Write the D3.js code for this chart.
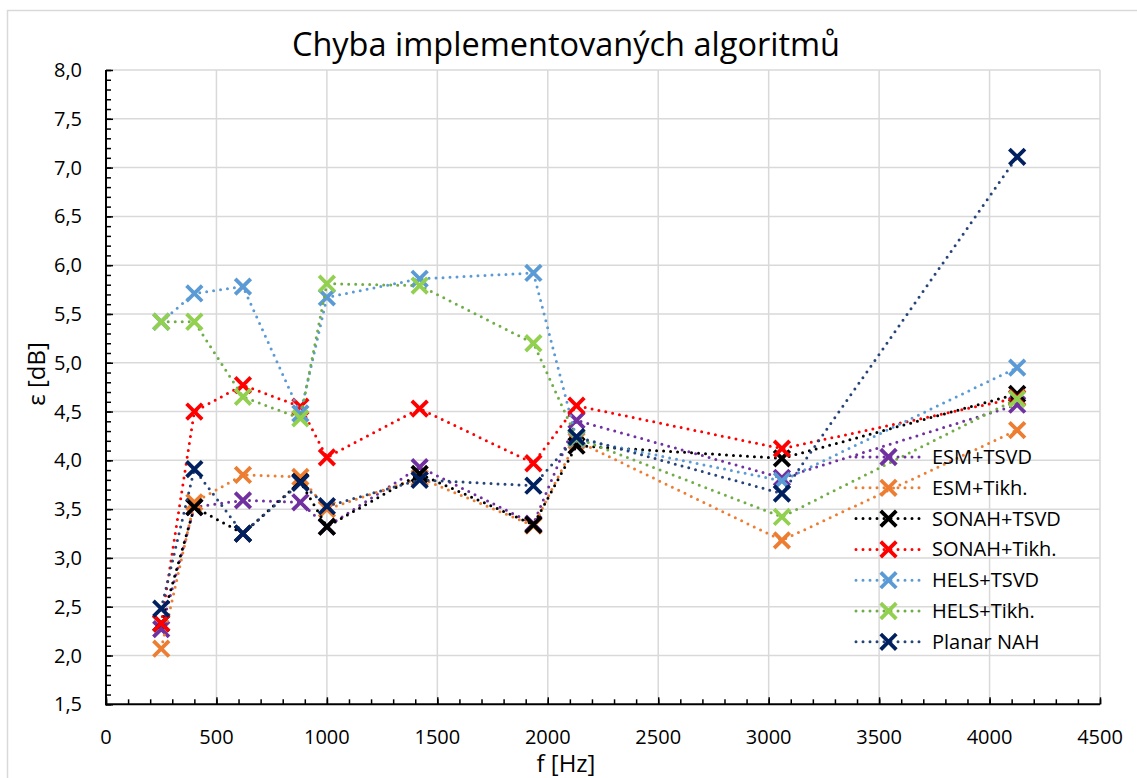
<!DOCTYPE html>
<html>
<head>
<meta charset="utf-8">
<script src="https://cdn.jsdelivr.net/npm/d3@7"></script>
<style>
  html, body { margin: 0; padding: 0; background: #fff; }
  svg { display: block; font-family: "Open Sans", sans-serif; }
</style>
</head>
<body>
<svg id="chart" width="1137" height="778"></svg>
<script>
// Measurement frequencies [Hz]
const freqs = [250, 400, 620, 880, 1000, 1420, 1935, 2130, 3060, 4125];

// Reconstruction error per algorithm [dB]
const esmTsvd   = [2.27, 3.52, 3.59, 3.57, 3.32, 3.93, 3.35, 4.41, 3.82, 4.57];
const esmTikh   = [2.07, 3.57, 3.85, 3.83, 3.50, 3.82, 3.33, 4.20, 3.18, 4.31];
const sonahTsvd = [2.33, 3.52, 3.25, 3.78, 3.32, 3.86, 3.34, 4.15, 4.02, 4.68];
const sonahTikh = [2.33, 4.50, 4.77, 4.55, 4.03, 4.53, 3.97, 4.56, 4.12, 4.64];
const helsTsvd  = [5.42, 5.71, 5.78, 4.48, 5.67, 5.86, 5.92, 4.22, 3.79, 4.95];
const helsTikh  = [5.42, 5.42, 4.65, 4.43, 5.81, 5.79, 5.20, 4.23, 3.42, 4.63];
const planarNah = [2.48, 3.91, 3.25, 3.77, 3.53, 3.80, 3.74, 4.24, 3.66, 7.11];

const seriesNames = ["ESM+TSVD", "ESM+Tikh.", "SONAH+TSVD", "SONAH+Tikh.", "HELS+TSVD", "HELS+Tikh.", "Planar NAH"];
const seriesValues = [esmTsvd, esmTikh, sonahTsvd, sonahTikh, helsTsvd, helsTikh, planarNah];
const lineColors   = ["#7030a0", "#ed7d31", "#000000", "#ff0000", "#5b9bd5", "#70ad47", "#264478"];
const markerColors = ["#7030a0", "#ed7d31", "#000000", "#ff0000", "#5b9bd5", "#92d050", "#002060"];

const xTicks = [0, 500, 1000, 1500, 2000, 2500, 3000, 3500, 4000, 4500];
const yTicks = [1.5, 2.0, 2.5, 3.0, 3.5, 4.0, 4.5, 5.0, 5.5, 6.0, 6.5, 7.0, 7.5, 8.0];

const svg = d3.select("#chart");
const x = d3.scaleLinear().domain([0, 4500]).range([106, 1100]);
const y = d3.scaleLinear().domain([1.5, 8.0]).range([704.3, 70]);
const fmt = v => d3.format(".1f")(v).replace(".", ",");

// chart frame
svg.append("rect").attr("x", 7.5).attr("y", 10.5).attr("width", 1140).attr("height", 790)
  .attr("fill", "none").attr("stroke", "#d9d9d9").attr("stroke-width", 1.5);

// gridlines
const grid = svg.append("g");
grid.selectAll(".gy").data(yTicks.slice(1)).join("line")
  .attr("x1", x(0)).attr("x2", x(4500))
  .attr("y1", d => y(d)).attr("y2", d => y(d))
  .attr("stroke", "#d9d9d9").attr("stroke-width", 1.5);
grid.selectAll(".gx").data(xTicks.slice(1)).join("line")
  .attr("x1", d => x(d)).attr("x2", d => x(d))
  .attr("y1", y(1.5)).attr("y2", y(8.0))
  .attr("stroke", "#d9d9d9").attr("stroke-width", 1.5);

// axes with inside ticks (minor + major)
const tickStyle = g => g.call(s => s.select(".domain").remove())
  .call(s => s.selectAll("line").attr("stroke", "#000").attr("stroke-width", 1.5));
svg.append("g").attr("transform", `translate(${x(0)},0)`)
  .call(d3.axisRight(y).tickValues(d3.range(15, 81).map(v => v / 10)).tickSize(5).tickFormat(""))
  .call(tickStyle);
svg.append("g").attr("transform", `translate(${x(0)},0)`)
  .call(d3.axisRight(y).tickValues(yTicks).tickSize(7).tickFormat(""))
  .call(tickStyle);
svg.append("g").attr("transform", `translate(0,${y(1.5)})`)
  .call(d3.axisTop(x).tickValues(d3.range(0, 4501, 100)).tickSize(5).tickFormat(""))
  .call(tickStyle);
svg.append("g").attr("transform", `translate(0,${y(1.5)})`)
  .call(d3.axisTop(x).tickValues(xTicks).tickSize(7).tickFormat(""))
  .call(tickStyle);

svg.append("line").attr("x1", x(0)).attr("x2", x(0)).attr("y1", y(8.0)).attr("y2", y(1.5) + 1)
  .attr("stroke", "#000").attr("stroke-width", 2);
svg.append("line").attr("x1", x(0) - 1).attr("x2", x(4500)).attr("y1", y(1.5)).attr("y2", y(1.5))
  .attr("stroke", "#000").attr("stroke-width", 2);

// tick labels
svg.append("g").selectAll("text").data(yTicks).join("text")
  .attr("x", 82).attr("y", d => y(d)).attr("dy", "0.35em")
  .attr("text-anchor", "end").attr("font-size", 20).attr("fill", "#000")
  .text(fmt);
svg.append("g").selectAll("text").data(xTicks).join("text")
  .attr("x", d => x(d)).attr("y", 737).attr("dy", "0.35em")
  .attr("text-anchor", "middle").attr("font-size", 20).attr("fill", "#000")
  .text(d => d);

// titles
svg.append("text").attr("x", 566).attr("y", 45).attr("dy", "0.35em")
  .attr("text-anchor", "middle").attr("font-size", 32.5).attr("fill", "#000")
  .text("Chyba implementovaných algoritmů");
svg.append("text").attr("x", 566).attr("y", 764).attr("dy", "0.35em")
  .attr("text-anchor", "middle").attr("font-size", 24).attr("fill", "#000")
  .text("f [Hz]");
svg.append("text").attr("transform", "translate(37,374) rotate(-90)").attr("dy", "0.35em")
  .attr("text-anchor", "middle").attr("font-size", 24).attr("fill", "#000")
  .text("ε [dB]");

// series: dotted line + cross markers
const line = d3.line().x(d => x(d[0])).y(d => y(d[1]));
const cross = (sel, s) => sel.append("path")
  .attr("d", `M${-s},${-s}L${s},${s}M${-s},${s}L${s},${-s}`);

seriesNames.forEach((name, i) => {
  const pts = freqs.map((f, j) => [f, seriesValues[i][j]]);
  const g = svg.append("g");
  g.append("path").datum(pts).attr("d", line)
    .attr("fill", "none").attr("stroke", lineColors[i]).attr("stroke-width", 3)
    .attr("stroke-linecap", "round").attr("stroke-dasharray", "0 7");
  g.selectAll("g.m").data(pts).join("g")
    .attr("transform", d => `translate(${x(d[0])},${y(d[1])})`)
    .each(function () {
      cross(d3.select(this), 7.8).attr("stroke", markerColors[i]).attr("stroke-width", 3.8).attr("fill", "none");
    });
});

// legend
const legend = svg.append("g");
seriesNames.forEach((name, i) => {
  const ly = 457 + i * 30.8;
  legend.append("line").attr("x1", 856).attr("x2", 921).attr("y1", ly).attr("y2", ly)
    .attr("stroke", lineColors[i]).attr("stroke-width", 3)
    .attr("stroke-linecap", "round").attr("stroke-dasharray", "0 7");
  cross(legend.append("g").attr("transform", `translate(888.5,${ly})`), 7.8)
    .attr("stroke", markerColors[i]).attr("stroke-width", 3.8).attr("fill", "none");
  legend.append("text").attr("x", 932).attr("y", ly).attr("dy", "0.35em")
    .attr("font-size", 20).attr("fill", "#000").text(name);
});
</script>
</body>
</html>
